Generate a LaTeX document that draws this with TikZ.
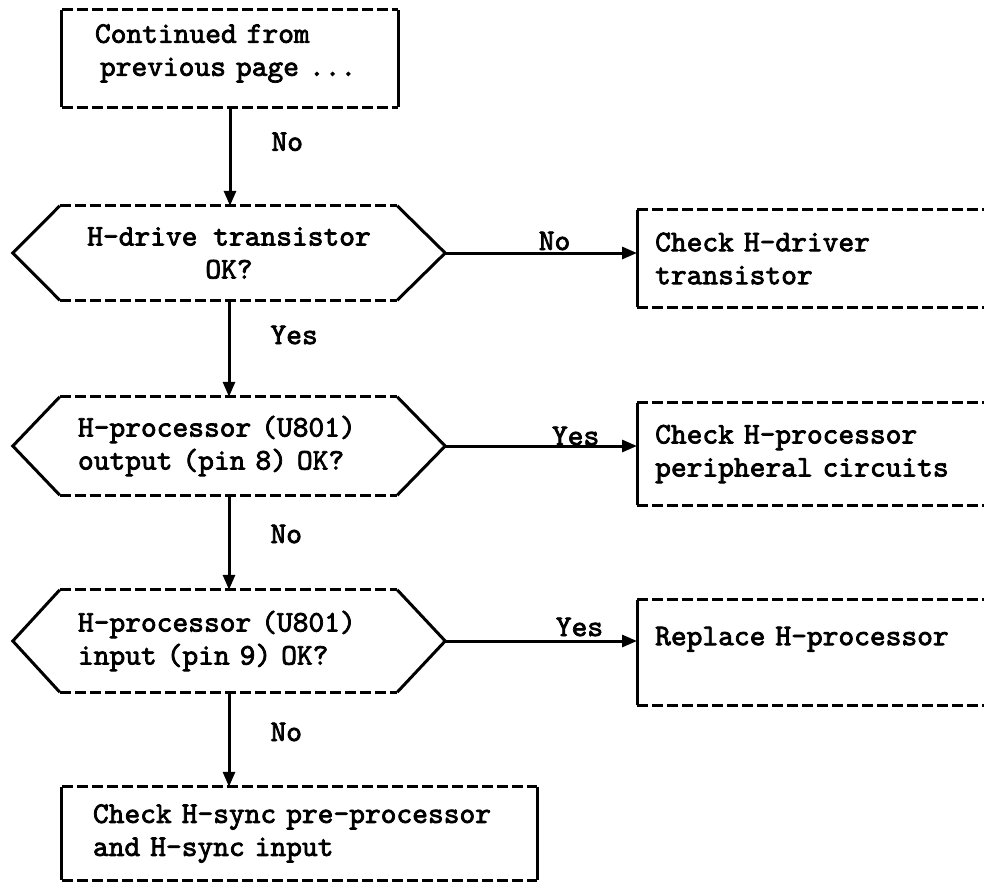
\documentclass[tikz,border=0pt]{standalone}
\usepackage{fontspec}
\newfontfamily\flowfont{lmmono10-regular.otf}[FakeBold=2.5]
\usetikzlibrary{arrows.meta,calc}
\tikzset{
  txt/.style={font=\fontsize{30}{33}\selectfont\flowfont, inner sep=0pt},
  frame/.style={rectangle, draw=none, txt},
  dashedge/.style={line width=2.8pt, dash pattern=on 11pt off 4pt},
  solidedge/.style={line width=3pt, line join=miter},
  flow/.style={line width=3pt, -{Triangle[length=15pt,width=12pt]}},
  lbl/.style={txt}
}
% hexagonal decision outline: dashed top and bottom, solid slanted ends
\newcommand\flowHexOutline[1]{%
  \draw[dashedge] ($(#1.north west)+(47,0)$) -- ($(#1.north east)+(-48,0)$)
                  ($(#1.south west)+(47,0)$) -- ($(#1.south east)+(-48,0)$);
  \draw[solidedge] ($(#1.north west)+(47,0)$) -- (#1.west) -- ($(#1.south west)+(47,0)$)
                   ($(#1.north east)+(-48,0)$) -- (#1.east) -- ($(#1.south east)+(-48,0)$);
}
% closed box: dashed top and bottom, solid sides
\newcommand\flowBoxOutline[1]{%
  \draw[dashedge] (#1.north west) -- (#1.north east) (#1.south west) -- (#1.south east);
  \draw[solidedge] (#1.north west) -- (#1.south west) (#1.north east) -- (#1.south east);
}
% open box running off the right edge: solid left side only
\newcommand\flowOpenOutline[1]{%
  \draw[dashedge] (#1.north west) -- (#1.north east) (#1.south west) -- (#1.south east);
  \draw[solidedge] (#1.north west) -- (#1.south west);
}
\begin{document}
\begin{tikzpicture}[x=1pt,y=-1pt]
\useasboundingbox (0,0) rectangle (984,886);
\fill[white] (0,0) rectangle (984,886);

% main column
\node[frame, text width=300pt, inner xsep=18pt, minimum height=97pt, align=left] (start) at (230,58.5)
  {\hspace*{15pt}Continued from\\\hspace*{20pt}previous page ...\\[-16pt]\mbox{}};
\node[frame, minimum width=432pt, minimum height=94pt, align=center] (d1) at (229,253)
  {H-drive transistor\\OK?};
\node[frame, text width=380pt, inner xsep=26pt, minimum height=98pt, align=left] (d2) at (229,446)
  {\hspace*{39pt}H-processor (U801)\\\hspace*{39pt}output (pin 8) OK?};
\node[frame, text width=380pt, inner xsep=26pt, minimum height=102pt, align=left] (d3) at (229,641)
  {\hspace*{39pt}H-processor (U801)\\\hspace*{39pt}input (pin 9) OK?};
\node[frame, text width=413pt, inner xsep=31pt, minimum height=93pt, align=left] (fin) at (299.5,833.5)
  {Check H-sync pre-processor\\and H-sync input};

% action boxes on the right
\node[frame, anchor=west, text width=311pt, inner xsep=18pt, minimum height=97pt, align=left] (b1) at (637,258.5)
  {Check H-driver\\transistor};
\node[frame, anchor=west, text width=311pt, inner xsep=18pt, minimum height=102pt, align=left] (b2) at (637,454)
  {Check H-processor\\peripheral circuits};
\node[frame, anchor=west, text width=311pt, inner xsep=18pt, minimum height=105pt, align=left] (b3) at (637,652.5)
  {Replace H-processor\\\mbox{}};

\flowBoxOutline{start}
\flowBoxOutline{fin}
\flowHexOutline{d1}
\flowHexOutline{d2}
\flowHexOutline{d3}
\flowOpenOutline{b1}
\flowOpenOutline{b2}
\flowOpenOutline{b3}

% vertical connectors
\draw[flow] (start.south) -- node[lbl, pos=0.35, anchor=west, xshift=40pt] {No} (start.south |- d1.north);
\draw[flow] (d1.south) -- node[lbl, pos=0.36, anchor=west, xshift=40pt] {Yes} (d2.north);
\draw[flow] (d2.south) -- node[lbl, pos=0.41, anchor=west, xshift=40pt] {No} (d3.north);
\draw[flow] (d3.south) -- node[lbl, pos=0.42, anchor=west, xshift=40pt] {No} (d3.south |- fin.north);

% horizontal connectors
\draw[flow] (d1.east) -- node[lbl, pos=0.57, anchor=base, yshift=3pt] {No} (d1.east -| b1.west);
\draw[flow] (d2.east) -- node[lbl, pos=0.68, anchor=base, yshift=1pt] {Yes} (d2.east -| b2.west);
\draw[flow] (d3.east) -- node[lbl, pos=0.70, anchor=base, yshift=5pt] {Yes} (d3.east -| b3.west);
\end{tikzpicture}
\end{document}
